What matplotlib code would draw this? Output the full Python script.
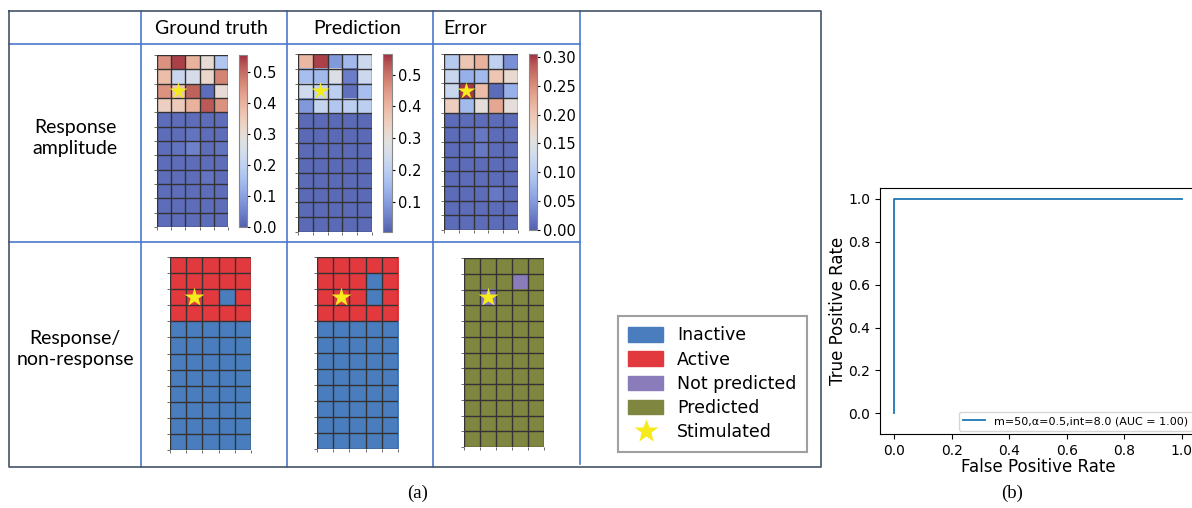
import numpy as np
import matplotlib
matplotlib.use("Agg")
import matplotlib.pyplot as plt
from matplotlib.colors import ListedColormap
from matplotlib.patches import Patch
from matplotlib.lines import Line2D

W, H = 1192, 508

# response amplitude maps (12 rows x 5 electrodes)
gt_amp = [
    [0.45, 0.54, 0.40, 0.30, 0.17],
    [0.38, 0.22, 0.25, 0.32, 0.47],
    [0.45, 0.36, 0.51, 0.02, 0.30],
    [0.34, 0.35, 0.40, 0.52, 0.45],
    [0.02, 0.02, 0.02, 0.02, 0.02],
    [0.02, 0.02, 0.03, 0.02, 0.02],
    [0.02, 0.03, 0.05, 0.02, 0.03],
    [0.02, 0.02, 0.02, 0.02, 0.02],
    [0.02, 0.02, 0.02, 0.03, 0.02],
    [0.02, 0.02, 0.02, 0.02, 0.02],
    [0.02, 0.02, 0.02, 0.02, 0.02],
    [0.02, 0.02, 0.02, 0.02, 0.02],
]
pred_amp = [
    [0.40, 0.55, 0.09, 0.15, 0.23],
    [0.16, 0.15, 0.27, 0.05, 0.23],
    [0.24, 0.22, 0.20, 0.03, 0.16],
    [0.09, 0.22, 0.18, 0.20, 0.20],
    [0.02, 0.02, 0.02, 0.02, 0.02],
    [0.02, 0.02, 0.02, 0.02, 0.02],
    [0.02, 0.02, 0.02, 0.02, 0.02],
    [0.02, 0.02, 0.02, 0.02, 0.02],
    [0.02, 0.02, 0.02, 0.02, 0.02],
    [0.02, 0.02, 0.02, 0.02, 0.02],
    [0.02, 0.02, 0.02, 0.02, 0.02],
    [0.02, 0.02, 0.02, 0.02, 0.02],
]
err_amp = [
    [0.10, 0.20, 0.22, 0.11, 0.04],
    [0.12, 0.07, 0.08, 0.20, 0.17],
    [0.12, 0.30, 0.21, 0.01, 0.07],
    [0.19, 0.08, 0.16, 0.23, 0.16],
    [0.01, 0.01, 0.01, 0.01, 0.01],
    [0.01, 0.01, 0.02, 0.01, 0.01],
    [0.01, 0.01, 0.02, 0.01, 0.01],
    [0.01, 0.01, 0.01, 0.01, 0.01],
    [0.01, 0.01, 0.01, 0.01, 0.01],
    [0.01, 0.01, 0.01, 0.02, 0.01],
    [0.01, 0.01, 0.01, 0.01, 0.01],
    [0.01, 0.01, 0.01, 0.01, 0.01],
]
amp_ranges = [(0.0, 0.555), (0.004, 0.565), (0.0, 0.305)]

# response / non-response maps (1 = active)
gt_bin = [[1, 1, 1, 1, 1], [1, 1, 1, 1, 1], [1, 1, 1, 0, 1], [1, 1, 1, 1, 1]] + [[0] * 5] * 8
pred_bin = [[1, 1, 1, 1, 1], [1, 1, 1, 0, 1], [1, 1, 1, 0, 1], [1, 1, 1, 1, 1]] + [[0] * 5] * 8
# error map (1 = not predicted)
err_bin = [[0] * 5, [0, 0, 0, 1, 0], [0, 1, 0, 0, 0]] + [[0] * 5] * 9

stim = (2, 1)  # row, col of stimulated electrode

col_titles = ["Ground truth", "Prediction", "Error"]
row_titles = ["Response\namplitude", "Response/\nnon-response"]
legend_labels = ["Inactive", "Active", "Not predicted", "Predicted", "Stimulated"]

# ROC
fpr = [0.0, 0.0, 1.0]
tpr = [0.0, 1.0, 1.0]
roc_label = "m=50,\u03b1=0.5,int=8.0 (AUC = 1.00)"

c_inactive, c_active = "#4a7dbd", "#e2393f"
c_notpred, c_pred = "#8a7cba", "#7e863f"
c_star = "#f4ea1c"

# slightly muted coolwarm, like the reference
base = plt.get_cmap("coolwarm")(np.linspace(0, 1, 256))[:, :3]
lum = (base @ np.array([0.299, 0.587, 0.114]))[:, None]
muted = 0.75 * base + 0.25 * lum
muted = 0.9 * muted + 0.1
amp_cmap = ListedColormap(muted)


def box(l, t, r, b):
    return [l / W, 1 - b / H, (r - l) / W, (b - t) / H]


fig = plt.figure(figsize=(W / 100, H / 100), dpi=100)

# table frame
ax0 = fig.add_axes([0, 0, 1, 1])
ax0.set_xlim(0, W)
ax0.set_ylim(H, 0)
ax0.axis("off")
inner = "#4a78cc"
for x in [141, 287, 433]:
    ax0.plot([x, x], [11, 467], color=inner, lw=1.2)
ax0.plot([580, 580], [11, 464], color=inner, lw=1.2)
ax0.plot([9, 580], [44, 44], color=inner, lw=1.2)
ax0.plot([9, 580], [242, 242], color=inner, lw=1.2)
ax0.plot([9, 821, 821, 9, 9], [11, 11, 467, 467, 11], color="#44546a", lw=1.2)

for x, t in zip([211, 357, 465], col_titles):
    ax0.text(x, 28, t, ha="center", va="center", fontsize=14, family="Lato", color="black")
for y, t in zip([138, 349], row_titles):
    ax0.text(75, y, t, ha="center", va="center", fontsize=14, family="Lato",
             linespacing=1.25, color="black")
ax0.text(418, 493, "(a)", ha="center", va="center", fontsize=13.5, family="Liberation Serif")
ax0.text(1012, 493, "(b)", ha="center", va="center", fontsize=13.5, family="Liberation Serif")


def grid_axes(ax):
    ax.set_xticks(np.arange(-0.5, 5, 1))
    ax.set_yticks(np.arange(-0.5, 12, 1))
    ax.set_xticklabels([])
    ax.set_yticklabels([])
    ax.tick_params(length=2.5, width=0.6, color="#555555")
    ax.grid(True, color="#333333", lw=1.0)
    for s in ax.spines.values():
        s.set_visible(False)


# amplitude heatmaps
amp_boxes = [(157, 55, 228, 227), (298, 54, 372, 232), (444, 54, 518, 230)]
cb_boxes = [(239, 55, 247, 227), (383, 54, 392, 232), (529, 54, 537, 230)]
amp_ticks = [[0.0, 0.1, 0.2, 0.3, 0.4, 0.5], [0.1, 0.2, 0.3, 0.4, 0.5],
             [0.0, 0.05, 0.10, 0.15, 0.20, 0.25, 0.30]]
amp_fmt = ["%.1f", "%.1f", "%.2f"]
for data, hb, cbb, (vmin, vmax), ticks, fmt in zip(
        [gt_amp, pred_amp, err_amp], amp_boxes, cb_boxes, amp_ranges, amp_ticks, amp_fmt):
    ax = fig.add_axes(box(*hb))
    im = ax.imshow(np.array(data), cmap=amp_cmap, vmin=vmin, vmax=vmax, aspect="auto")
    grid_axes(ax)
    ax.plot(stim[1], stim[0], marker="*", ms=13, color=c_star, mec="none")
    cax = fig.add_axes(box(*cbb))
    cb = fig.colorbar(im, cax=cax, ticks=ticks, format=fmt)
    cb.outline.set_edgecolor("#888888")
    cax.tick_params(labelsize=10.5, length=2.5, pad=1.5)

# binary maps
bin_boxes = [(170, 257, 251, 450), (317, 257, 398, 449), (464, 258, 544, 447)]
bin_cmaps = [ListedColormap([c_inactive, c_active]), ListedColormap([c_inactive, c_active]),
             ListedColormap([c_pred, c_notpred])]
for data, hb, cm in zip([gt_bin, pred_bin, err_bin], bin_boxes, bin_cmaps):
    ax = fig.add_axes(box(*hb))
    ax.imshow(np.array(data), cmap=cm, vmin=0, vmax=1, aspect="auto")
    grid_axes(ax)
    ax.plot(stim[1], stim[0], marker="*", ms=15, color=c_star, mec="none")

handles = [Patch(color=c_inactive), Patch(color=c_active), Patch(color=c_notpred),
           Patch(color=c_pred),
           Line2D([], [], ls="none", marker="*", ms=18, color=c_star, mec="none")]
leg = fig.legend(handles, legend_labels, loc="upper left",
                 bbox_to_anchor=(618 / W, 1 - 316 / H), borderaxespad=0,
                 fontsize=12.5, fancybox=False, handlelength=2.0, handleheight=0.9,
                 labelspacing=0.36, handletextpad=0.8, borderpad=0.6)
leg.get_frame().set_edgecolor("#888888")
leg.get_frame().set_linewidth(1.5)

# ROC curve
axr = fig.add_axes(box(880, 188, 1196, 434))
axr.plot(fpr, tpr, color="C0", lw=1.3, label=roc_label)
axr.set_xlim(-0.05, 1.05)
axr.set_ylim(-0.097, 1.051)
axr.set_xticks([0.0, 0.2, 0.4, 0.6, 0.8, 1.0])
axr.set_yticks([0.0, 0.2, 0.4, 0.6, 0.8, 1.0])
axr.tick_params(labelsize=10)
axr.set_xlabel("False Positive Rate", fontsize=12, labelpad=0)
axr.set_ylabel("True Positive Rate", fontsize=12, labelpad=1)
axr.legend(loc="lower right", fontsize=8, borderaxespad=0.3)

fig.savefig("out.png", dpi=100)
